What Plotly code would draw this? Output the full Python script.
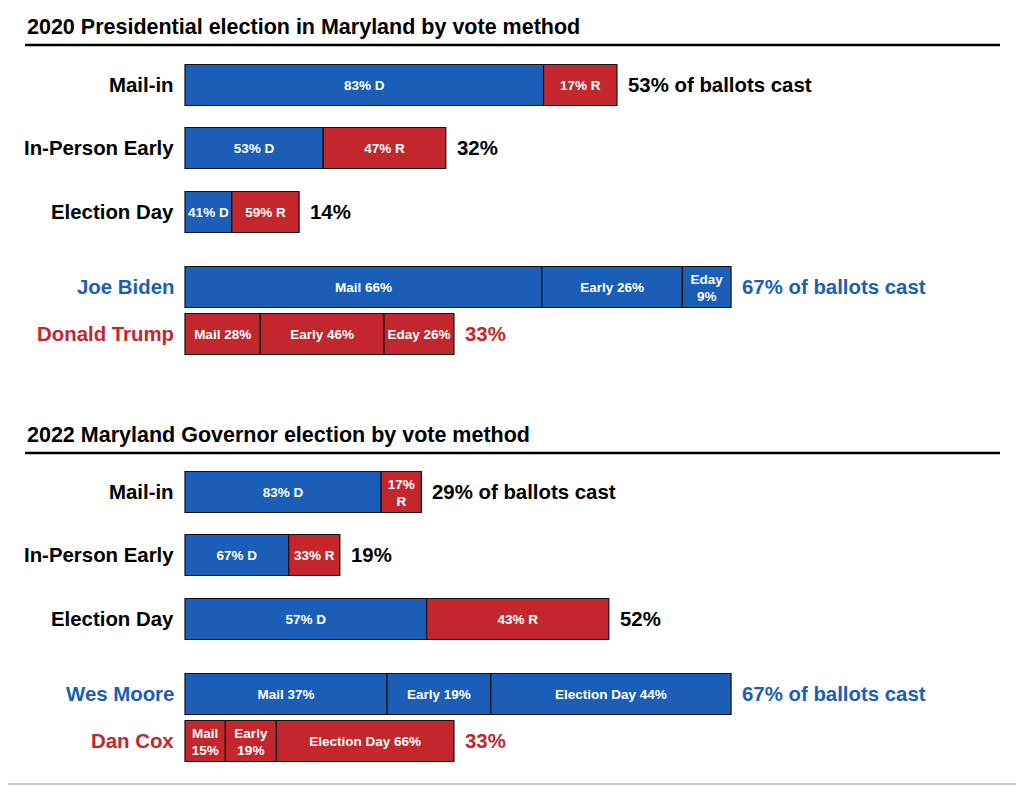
import plotly.graph_objects as go

# ---------------- data ----------------
titles = ["2020 Presidential election in Maryland by vote method",
          "2022 Maryland Governor election by vote method"]

# 2020 by method
m20_labels = ["Mail-in", "In-Person Early", "Election Day"]
m20_share = [53, 32, 14]
m20_dem = [83, 53, 41]
m20_rep = [17, 47, 59]
m20_dem_text = ["83% D", "53% D", "41% D"]
m20_rep_text = ["17% R", "47% R", "59% R"]
m20_right = ["53% of ballots cast", "32%", "14%"]

# 2020 by candidate
c20_labels = ["Joe Biden", "Donald Trump"]
c20_share = [67, 33]
c20_parts = [[66, 26, 9], [28, 46, 26]]
c20_text = [["Mail 66%", "Early 26%", "Eday<br>9%"],
            ["Mail 28%", "Early 46%", "Eday 26%"]]
c20_right = ["67% of ballots cast", "33%"]

# 2022 by method
m22_labels = ["Mail-in", "In-Person Early", "Election Day"]
m22_share = [29, 19, 52]
m22_dem = [83, 67, 57]
m22_rep = [17, 33, 43]
m22_dem_text = ["83% D", "67% D", "57% D"]
m22_rep_text = ["17%<br>R", "33% R", "43% R"]
m22_right = ["29% of ballots cast", "19%", "52%"]

# 2022 by candidate
c22_labels = ["Wes Moore", "Dan Cox"]
c22_share = [67, 33]
c22_parts = [[37, 19, 44], [15, 19, 66]]
c22_text = [["Mail 37%", "Early 19%", "Election Day 44%"],
            ["Mail<br>15%", "Early<br>19%", "Election Day 66%"]]
c22_right = ["67% of ballots cast", "33%"]

# ---------------- layout constants ----------------
PAGE_W, PAGE_H = 1024, 787
OFF = 8                      # default page body margin
W, H = PAGE_W - OFF, PAGE_H - OFF
X0_PX = 185                  # page pixel where 0% sits
PX_PER = 8.15                # pixels per percentage point
BLUE = "#1b5eb7"
RED = "#c3272d"
FONT = "Liberation Sans, Arial, Helvetica, sans-serif"
BAR_H = 41
LBL_SIZE = 20.4
IN_SIZE = 13.5
TXT_DY = 2                   # nudge inner text to visual centre

rows20_y = [85, 148, 212, 287, 334]
rows22_y = [492, 555, 619, 694, 741]
title_y = [27, 435]
rule_y = [45, 453]

bar_base, bar_w, bar_y, bar_col = [], [], [], []
txt_x, txt_y, txt_s = [], [], []
annotations = []


def add_seg(base, width, y, color, text):
    bar_base.append(base)
    bar_w.append(width)
    bar_y.append(y)
    bar_col.append(color)
    txt_x.append(base + width / 2)
    txt_y.append(y + TXT_DY)
    txt_s.append(text)


def left_label(text, y, color):
    annotations.append(dict(x=-9 / PX_PER, y=y, xref="x", yref="y", text="<b>%s</b>" % text,
                            showarrow=False, xanchor="right", yanchor="middle",
                            font=dict(family=FONT, size=LBL_SIZE, color=color)))


def right_label(text, x, y, color):
    annotations.append(dict(x=x, y=y, xref="x", yref="y", text="<b>%s</b>" % text,
                            showarrow=False, xanchor="left", yanchor="middle", xshift=9,
                            font=dict(family=FONT, size=LBL_SIZE, color=color)))


def build_panel(labels, share, dem, rep, dem_t, rep_t, right, clabels, cshare, cparts, ctext, cright, ys):
    for i in range(3):
        y = ys[i]
        wd = share[i] * dem[i] / 100
        wr = share[i] * rep[i] / 100
        add_seg(0, wd, y, BLUE, dem_t[i])
        add_seg(wd, wr, y, RED, rep_t[i])
        left_label(labels[i], y, "black")
        right_label(right[i], share[i], y, "black")
    for j in range(2):
        y = ys[3 + j]
        col = BLUE if j == 0 else RED
        tot = sum(cparts[j])
        b = 0
        for k in range(3):
            w = cshare[j] * cparts[j][k] / tot
            add_seg(b, w, y, col, ctext[j][k])
            b += w
        left_label(clabels[j], y, col)
        right_label(cright[j], cshare[j], y, col)


build_panel(m20_labels, m20_share, m20_dem, m20_rep, m20_dem_text, m20_rep_text, m20_right,
            c20_labels, c20_share, c20_parts, c20_text, c20_right, rows20_y)
build_panel(m22_labels, m22_share, m22_dem, m22_rep, m22_dem_text, m22_rep_text, m22_right,
            c22_labels, c22_share, c22_parts, c22_text, c22_right, rows22_y)

fig = go.Figure()
fig.add_trace(go.Bar(orientation="h", y=bar_y, x=bar_w, base=bar_base, width=BAR_H,
                     marker=dict(color=bar_col, line=dict(color="#111111", width=1.2)),
                     hoverinfo="skip"))
fig.add_trace(go.Scatter(x=txt_x, y=txt_y, text=["<b>%s</b>" % t for t in txt_s], mode="text",
                         textposition="middle center",
                         textfont=dict(family=FONT, size=IN_SIZE, color="white"), hoverinfo="skip"))


def px_to_paper_x(px):
    return (px - OFF) / W


for t, ty in zip(titles, title_y):
    annotations.append(dict(x=px_to_paper_x(25), y=ty, xref="paper", yref="y", text="<b>%s</b>" % t,
                            showarrow=False, xanchor="left", yanchor="middle",
                            font=dict(family=FONT, size=21.5, color="black")))

shapes = []
for ry in rule_y:
    shapes.append(dict(type="line", xref="paper", yref="y", x0=px_to_paper_x(25), x1=px_to_paper_x(1000),
                       y0=ry, y1=ry, line=dict(color="black", width=2.5)))
shapes.append(dict(type="line", xref="paper", yref="y", x0=0, x1=1, y0=784, y1=784,
                   line=dict(color="#c8c8c8", width=2)))

fig.update_layout(
    width=W, height=H, margin=dict(l=0, r=0, t=0, b=0),
    paper_bgcolor="white", plot_bgcolor="white", showlegend=False, barmode="overlay",
    xaxis=dict(range=[(OFF - X0_PX) / PX_PER, (PAGE_W - X0_PX) / PX_PER], visible=False, fixedrange=True),
    yaxis=dict(range=[PAGE_H, OFF], visible=False, fixedrange=True),
    annotations=annotations, shapes=shapes,
)

fig.write_html("out.html")
